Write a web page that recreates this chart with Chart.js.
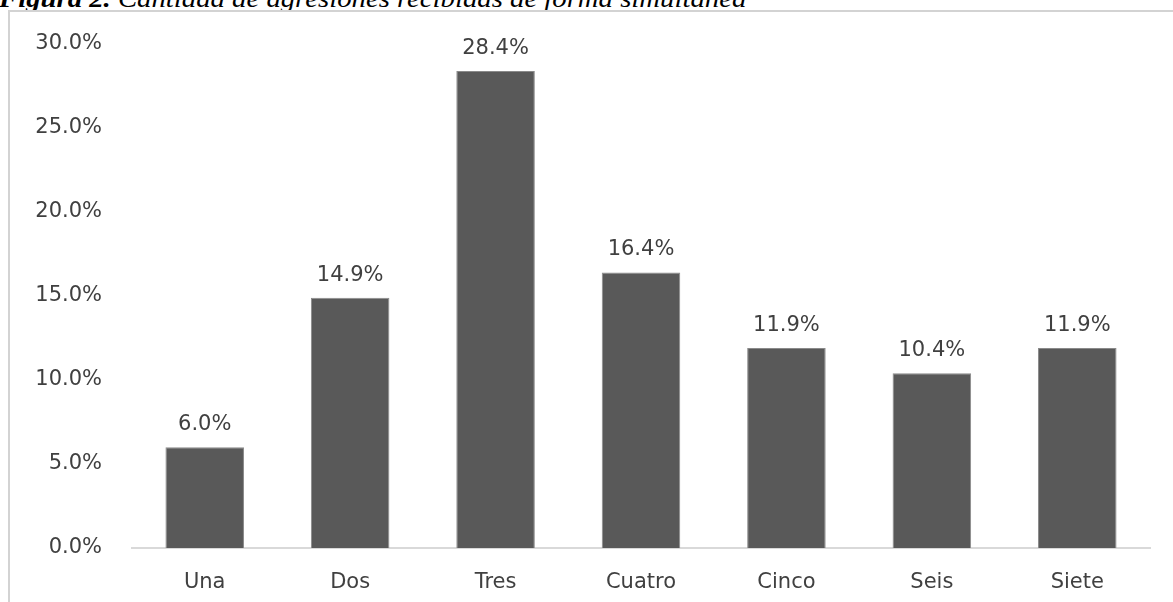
<!DOCTYPE html>
<html>
<head>
<meta charset="utf-8">
<script src="https://cdn.jsdelivr.net/npm/chart.js@4.4.1/dist/chart.umd.min.js"></script>
<style>
  html, body { margin: 0; padding: 0; background: #ffffff; overflow: hidden; }
  #wrap { position: relative; width: 1173px; height: 602px; }
  #title {
    position: absolute; left: -1px; top: -14px;
    font-family: "Liberation Serif", "Times New Roman", serif;
    font-size: 26px; line-height: 26px; font-style: italic; color: #000;
    white-space: nowrap; transform: scaleX(1.105); transform-origin: left top;
  }
  #title b { font-weight: bold; }
  canvas { position: absolute; left: 0; top: 0; }
</style>
</head>
<body>
<div id="wrap">
  <div id="title"><b>Figura 2.</b> Cantidad de agresiones recibidas de forma simultánea</div>
  <canvas id="chart" width="1173" height="602"></canvas>
</div>
<script>
// Number of simultaneous aggressions received and share of respondents (%)
const categories = ["Una", "Dos", "Tres", "Cuatro", "Cinco", "Seis", "Siete"];
const shares = [6.0, 14.9, 28.4, 16.4, 11.9, 10.4, 11.9];
const yTickValues = [0, 5, 10, 15, 20, 25, 30];

const TEXT_FONT = { family: "'DejaVu Sans', sans-serif", size: 21 };
const TEXT_COLOR = "#404040";

// Light gray frame around the plot
const framePlugin = {
  id: "frame",
  beforeDraw(chart) {
    const ctx = chart.ctx;
    ctx.save();
    ctx.strokeStyle = "#d3d3d3";
    ctx.lineWidth = 2;
    ctx.beginPath();
    ctx.moveTo(9, chart.height + 2);
    ctx.lineTo(9, 11);
    ctx.lineTo(chart.width + 2, 11);
    ctx.stroke();
    ctx.restore();
  }
};

// Percentage value written above each bar
const valueLabels = {
  id: "valueLabels",
  afterDatasetsDraw(chart) {
    const ctx = chart.ctx;
    const meta = chart.getDatasetMeta(0);
    ctx.save();
    ctx.font = `${TEXT_FONT.size}px ${TEXT_FONT.family}`;
    ctx.fillStyle = TEXT_COLOR;
    ctx.textAlign = "center";
    ctx.textBaseline = "alphabetic";
    meta.data.forEach((bar, i) => {
      ctx.fillText(shares[i].toFixed(1) + "%", bar.x, bar.y - 17);
    });
    ctx.restore();
  }
};

new Chart(document.getElementById("chart"), {
  type: "bar",
  data: {
    labels: categories,
    datasets: [{
      data: shares,
      backgroundColor: "#595959",
      borderColor: "#8a8a8a",
      borderWidth: 1,
      categoryPercentage: 1.0,
      barPercentage: 0.54
    }]
  },
  options: {
    responsive: false,
    animation: false,
    events: [],
    layout: { padding: { top: 44, right: 23, bottom: 0, left: 0 } },
    plugins: { legend: { display: false }, tooltip: { enabled: false } },
    scales: {
      x: {
        grid: { display: false, drawTicks: false },
        border: { display: true, color: "#d9d9d9", width: 2 },
        ticks: { font: TEXT_FONT, color: TEXT_COLOR, padding: 22, maxRotation: 0 },
        afterFit(scale) { scale.height = 54; }
      },
      y: {
        min: 0,
        max: 30,
        grid: { display: false, drawTicks: false },
        border: { display: false },
        afterBuildTicks(scale) { scale.ticks = yTickValues.map(v => ({ value: v })); },
        ticks: {
          font: TEXT_FONT,
          color: TEXT_COLOR,
          padding: 30,
          callback: v => Number(v).toFixed(1) + "%"
        },
        afterFit(scale) { scale.width = 132; }
      }
    }
  },
  plugins: [framePlugin, valueLabels]
});
</script>
</body>
</html>
